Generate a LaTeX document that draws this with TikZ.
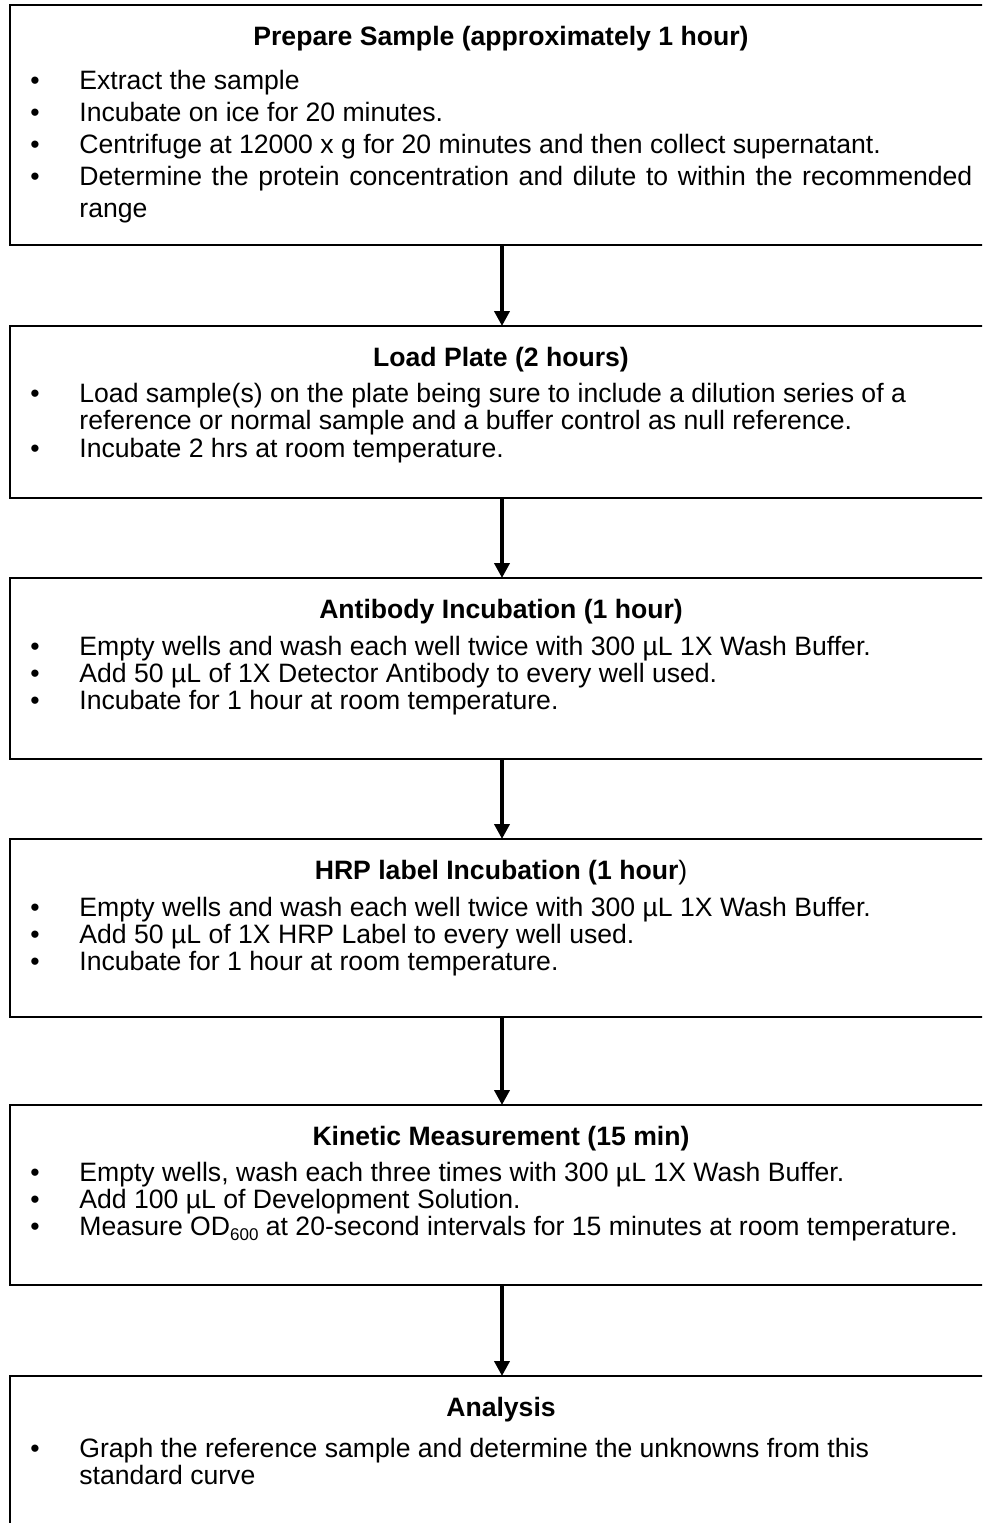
\documentclass[tikz,border=0pt]{standalone}
\usepackage{fontspec}
\setmainfont{Liberation Sans}
\usetikzlibrary{arrows.meta}
\tikzset{
  box/.style={draw=black, line width=1pt, rectangle, minimum width=492.5pt, outer sep=0pt, inner sep=0pt},
  head/.style={anchor=base, inner sep=0pt, font=\fontsize{13.3pt}{16pt}\selectfont\bfseries},
  txt/.style={anchor=base west, inner sep=0pt, font=\fontsize{13.3pt}{16pt}\selectfont},
  bul/.style={anchor=base, inner sep=0pt, font=\fontsize{13.3pt}{16pt}\selectfont},
  arr/.style={line width=2pt, -{Triangle[length=7.5pt,width=7.5pt]}}
}
\begin{document}
\begin{tikzpicture}[x=0.5pt, y=-0.5pt]
\useasboundingbox (0,0) rectangle (982,1523);
\clip (0,0) rectangle (982,1523);
% boxes
\node[box, minimum height=120pt] (b1) at (502,125) {};
\node[box, minimum height=86pt] (b2) at (502,412) {};
\node[box, minimum height=90.5pt] (b3) at (502,668.5) {};
\node[box, minimum height=89pt] (b4) at (502,928) {};
\node[box, minimum height=90pt] (b5) at (502,1195) {};
\node[box, minimum height=82pt] (b6) at (502,1458) {};
% box 1
\node[head] (h1) at (501,45) {Prepare Sample (approximately 1 hour)};
\node[bul] (p11) at (35,89) {\textbullet};
\node[txt] (t11) at (79,89) {Extract the sample};
\node[bul] (p12) at (35,121) {\textbullet};
\node[txt] (t12) at (79,121) {Incubate on ice for 20 minutes.};
\node[bul] (p13) at (35,153) {\textbullet};
\node[txt] (t13) at (79,153) {Centrifuge at 12000 x g for 20 minutes and then collect supernatant.};
\node[bul] (p14) at (35,185) {\textbullet};
\node[txt] (t14) at (79,185) {\makebox[446.5pt][s]{Determine the protein concentration and dilute to within the recommended}};
\node[txt] (t15) at (79,217) {range};
% box 2
\node[head] (h2) at (501,366) {Load Plate (2 hours)};
\node[bul] (p21) at (35,402) {\textbullet};
\node[txt] (t21) at (79,402) {Load sample(s) on the plate being sure to include a dilution series of a};
\node[txt] (t22) at (79,429) {reference or normal sample and a buffer control as null reference.};
\node[bul] (p23) at (35,457) {\textbullet};
\node[txt] (t23) at (79,457) {Incubate 2 hrs at room temperature.};
% box 3
\node[head] (h3) at (501,618) {Antibody Incubation (1 hour)};
\node[bul] (p31) at (35,655) {\textbullet};
\node[txt] (t31) at (79,655) {Empty wells and wash each well twice with 300 µL 1X Wash Buffer.};
\node[bul] (p32) at (35,682) {\textbullet};
\node[txt] (t32) at (79,682) {Add 50 µL of 1X Detector Antibody to every well used.};
\node[bul] (p33) at (35,709) {\textbullet};
\node[txt] (t33) at (79,709) {Incubate for 1 hour at room temperature.};
% box 4
\node[head] (h4) at (501,879) {HRP label Incubation (1 hour\textmd{)}};
\node[bul] (p41) at (35,916) {\textbullet};
\node[txt] (t41) at (79,916) {Empty wells and wash each well twice with 300 µL 1X Wash Buffer.};
\node[bul] (p42) at (35,943) {\textbullet};
\node[txt] (t42) at (79,943) {Add 50 µL of 1X HRP Label to every well used.};
\node[bul] (p43) at (35,970) {\textbullet};
\node[txt] (t43) at (79,970) {Incubate for 1 hour at room temperature.};
% box 5
\node[head] (h5) at (501,1145) {Kinetic Measurement (15 min)};
\node[bul] (p51) at (35,1181) {\textbullet};
\node[txt] (t51) at (79,1181) {Empty wells, wash each three times with 300 µL 1X Wash Buffer.};
\node[bul] (p52) at (35,1208) {\textbullet};
\node[txt] (t52) at (79,1208) {Add 100 µL of Development Solution.};
\node[bul] (p53) at (35,1235) {\textbullet};
\node[txt] (t53) at (79,1235) {Measure OD\raisebox{-2.5pt}{\fontsize{8.5pt}{9pt}\selectfont 600} at 20-second intervals for 15 minutes at room temperature.};
% box 6
\node[head] (h6) at (501,1416) {Analysis};
\node[bul] (p61) at (35,1457) {\textbullet};
\node[txt] (t61) at (79,1457) {Graph the reference sample and determine the unknowns from this};
\node[txt] (t62) at (79,1484) {standard curve};
% arrows
\draw[arr] (b1.south) -- (b2.north);
\draw[arr] (b2.south) -- (b3.north);
\draw[arr] (b3.south) -- (b4.north);
\draw[arr] (b4.south) -- (b5.north);
\draw[arr] (b5.south) -- (b6.north);
\end{tikzpicture}
\end{document}
